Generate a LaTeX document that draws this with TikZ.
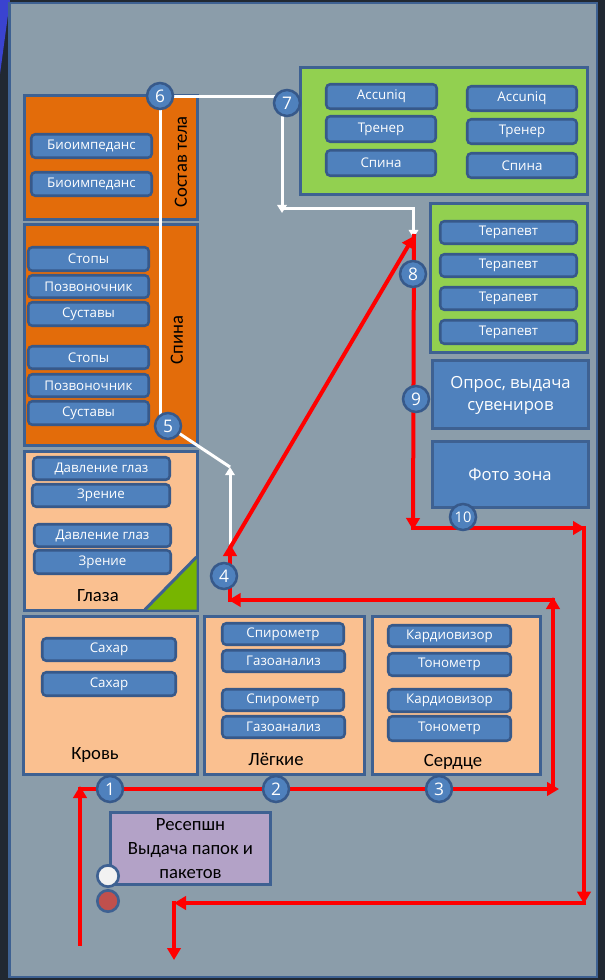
\documentclass[tikz,border=0pt]{standalone}
\usepackage{fontspec}
\setmainfont{Carlito}
\newfontfamily\bfont{Open Sans}
\usetikzlibrary{arrows.meta}
\definecolor{outerbg}{HTML}{212832}
\definecolor{tri}{HTML}{3A43D0}
\definecolor{panel}{HTML}{8B9DAA}
\definecolor{edge}{HTML}{3E6192}
\definecolor{btnfill}{HTML}{4F81BD}
\definecolor{btnedge}{HTML}{37598A}
\definecolor{orng}{HTML}{E36C0A}
\definecolor{peach}{HTML}{FAC090}
\definecolor{lgreen}{HTML}{92D050}
\definecolor{dgreen}{HTML}{77B500}
\definecolor{lav}{HTML}{B3A2C7}
\definecolor{redc}{HTML}{C0504D}
\definecolor{offwhite}{HTML}{F2F2F2}
% zone box: name, x1, y1, x2, y2 (outer extents, px), fill
\newcommand{\zonebox}[6]{\node[zone, fill=#6, minimum width={(#4-#2-3)*0.75pt}, minimum height={(#5-#3-3)*0.75pt}] (#1) at ({(#2+#4)/2},{(#3+#5)/2}) {};}
% button: name, x1, y1, x2, y2 (outer extents, px), text
\newcommand{\btnode}[6]{\node[btn, minimum width={(#4-#2-2.5)*0.75pt}, minimum height={(#5-#3-2.5)*0.75pt}] (#1) at ({(#2+#4)/2},{(#3+#5)/2}) {#6};}
\begin{document}
\begin{tikzpicture}[x=0.75pt,y=-0.75pt,
  zone/.style={rectangle, draw=edge, line width=2.25pt, inner sep=0pt},
  btn/.style={rectangle, draw=btnedge, fill=btnfill, line width=1.9pt, rounded corners=3pt, inner sep=0pt, text=white, font=\bfont\fontsize{10}{12}\selectfont},
  lbl/.style={text=black, font=\fontsize{14}{18}\selectfont, inner sep=0pt},
  bigw/.style={text=white, font=\bfont\fontsize{12.5}{16.5}\selectfont, inner sep=0pt, align=center},
  num/.style={circle, draw=btnedge, fill=btnfill, line width=1.9pt, minimum size=19.5pt, inner sep=0pt, text=white, font=\bfont\fontsize{13}{13}\selectfont},
  redarr/.style={draw=red, line width=3pt, -{Triangle[length=9pt,width=10pt]}},
  wharr/.style={draw=white, line width=2.25pt, -{Triangle[length=6pt,width=7pt]}},
  whln/.style={draw=white, line width=2.25pt},
]
\useasboundingbox (0,0) rectangle (605,980);
\fill[outerbg] (0,0) rectangle (605,980);
\fill[tri] (0,0) -- (10,0) -- (0,74) -- cycle;
\draw[fill=panel, draw=edge, line width=2pt] (9.5,3) rectangle (597,977);

% zones
\zonebox{sostav}{23}{94}{199}{221}{orng}
\zonebox{spina}{23}{223}{199}{447}{orng}
\zonebox{glaza}{23}{450}{199}{612}{peach}
\fill[dgreen] (145,609.5) -- (196.5,609.5) -- (196.5,557) -- cycle;
\draw[edge, line width=2.25pt] (145,609.5) -- (196.5,557);
\zonebox{krov}{22}{615}{199}{776}{peach}
\zonebox{legk}{203}{615}{366}{776}{peach}
\zonebox{serd}{371}{615}{542}{776}{peach}
\zonebox{grA}{299}{66}{589}{196}{lgreen}
\zonebox{grB}{429}{202}{589}{354}{lgreen}
\zonebox{opros}{431}{359}{590}{430}{btnfill}
\zonebox{foto}{431}{440}{590}{509}{btnfill}
\zonebox{recep}{109}{811}{272}{886}{lav}

% zone labels
\node[lbl, rotate=90] (lsostav) at (181,162) {Состав тела};
\node[lbl, rotate=90] (lspina) at (177,340) {Спина};
\node[lbl] (lglaza) at (98,596) {Глаза};
\node[lbl] (lkrov) at (95,755) {Кровь};
\node[lbl] (llegk) at (276,759) {Лёгкие};
\node[lbl] (lserd) at (453,762) {Сердце};
\node[lbl, align=center] (lrecep) at (190.5,849) {Ресепшн\\Выдача папок и\\пакетов};
\node[bigw] (lopros) at (510.5,395) {Опрос, выдача\\сувениров};
\node[bigw] (lfoto) at (510,475) {Фото зона};

% buttons
\btnode{b1}{30}{133}{153}{159}{Биоимпеданс}
\btnode{b2}{30}{171}{153}{197}{Биоимпеданс}
\btnode{b3}{27}{246}{150}{272}{Стопы}
\btnode{b4}{27}{274}{150}{299}{Позвоночник}
\btnode{b5}{27}{301}{150}{327}{Суставы}
\btnode{b6}{27}{345}{150}{370}{Стопы}
\btnode{b7}{27}{373}{150}{398}{Позвоночник}
\btnode{b8}{27}{400}{150}{426}{Суставы}
\btnode{b9}{32}{456}{171}{481}{Давление глаз}
\btnode{b10}{31}{483}{171}{508}{Зрение}
\btnode{b11}{33}{523}{172}{548}{Давление глаз}
\btnode{b12}{33}{549}{172}{575}{Зрение}
\btnode{b13}{41}{637}{177}{662}{Сахар}
\btnode{b14}{41}{671}{177}{697}{Сахар}
\btnode{b15}{221}{622}{345}{646}{Спирометр}
\btnode{b16}{221}{649}{346}{673}{Газоанализ}
\btnode{b17}{221}{688}{345}{712}{Спирометр}
\btnode{b18}{221}{715}{346}{739}{Газоанализ}
\btnode{b19}{387}{624}{512}{648}{Кардиовизор}
\btnode{b20}{387}{652}{512}{677}{Тонометр}
\btnode{b21}{387}{688}{512}{713}{Кардиовизор}
\btnode{b22}{387}{715}{512}{742}{Тонометр}
\btnode{b23}{325}{83}{438}{110}{Accuniq}
\btnode{b24}{325}{115}{437}{143}{Тренер}
\btnode{b25}{325}{149}{437}{177}{Спина}
\btnode{b26}{466}{85}{578}{112}{Accuniq}
\btnode{b27}{466}{118}{578}{145}{Тренер}
\btnode{b28}{466}{152}{578}{179}{Спина}
\btnode{b29}{439}{220}{578}{245}{Терапевт}
\btnode{b30}{439}{253}{578}{278}{Терапевт}
\btnode{b31}{439}{286}{578}{311}{Терапевт}
\btnode{b32}{439}{319}{578}{345}{Терапевт}

% circle positions
\coordinate (p1) at (110,789);
\coordinate (p2) at (276,789);
\coordinate (p3) at (439,789);
\coordinate (p4) at (224,576);
\coordinate (p5) at (168,426);
\coordinate (p6) at (160,96);
\coordinate (p7) at (287,103);
\coordinate (p8) at (413,274);
\coordinate (p9) at (416,399);
\coordinate (p10) at (463,517);

% white route
\coordinate (w5top) at (160,416);
\coordinate (w67) at (287,97);
\coordinate (w7a) at (282,112);
\coordinate (w7b) at (282,213);
\coordinate (wc1) at (281,208.5);
\coordinate (wc2) at (413.5,208.5);
\coordinate (wc3) at (413.5,238);
\coordinate (w4bot) at (230,546);
\coordinate (w4top) at (230,467);
\draw[whln] (p6) -- (w5top);
\draw[whln] ([yshift=-0.75pt]p6) -- (w67);
\draw[wharr] (w7a) -- (w7b);
\draw[wharr, line join=miter] (wc1) -- (wc2) -- (wc3);
\draw[whln] (p5) -- (w4top);
\draw[wharr] (w4bot) -- (w4top);

% red route
\coordinate (s0) at (80,946);
\coordinate (s1) at (80,789);
\coordinate (s2) at (553,789);
\coordinate (s3) at (553,600);
\coordinate (s4) at (230,600);
\coordinate (s5) at (230,546);
\coordinate (s6) at (414,236);
\coordinate (s7) at (413,528);
\coordinate (s8) at (585,528);
\coordinate (s9) at (584,903);
\coordinate (s10) at (174,903);
\coordinate (s11) at (174,960);
\draw[redarr] (s0) -- ([yshift=2.25pt]s1);
\draw[redarr] ([xshift=-1.5pt]s1) -- ([xshift=4.5pt]s2);
\draw[redarr] ([yshift=-1.5pt]s2) -- ([yshift=2.25pt]s3);
\draw[redarr] ([xshift=1.5pt]s3) -- ([xshift=-1pt]s4);
\draw[redarr] ([yshift=-1.5pt]s4) -- ([yshift=1.5pt]s5);
\draw[redarr] ([yshift=-1.5pt]s5) -- (s6);
\draw[redarr] ([yshift=1.5pt]s6) -- ([yshift=-1.5pt]s7);
\draw[redarr] ([xshift=-1.5pt]s7) -- (s8);
\draw[redarr] ([yshift=1.5pt,xshift=-0.75pt]s8) -- ([yshift=-0.5pt]s9);
\draw[redarr] ([xshift=1.5pt]s9) -- (s10);
\draw[redarr] ([yshift=1.5pt]s10) -- (s11);

% numbered stations
\node[num] (n1) at (p1) {1};
\node[num] (n2) at (p2) {2};
\node[num] (n3) at (p3) {3};
\node[num] (n4) at (p4) {4};
\node[num] (n5) at (p5) {5};
\node[num] (n6) at (p6) {6};
\node[num] (n7) at (p7) {7};
\node[num] (n8) at (p8) {8};
\node[num] (n9) at (p9) {9};
\node[num, font=\bfont\fontsize{11}{11}\selectfont] (n10) at (p10) {10};

% reception lights
\node[circle, draw=edge, fill=offwhite, line width=2pt, minimum size=16pt, inner sep=0pt] (lightw) at (108,876) {};
\node[circle, draw=edge, fill=redc, line width=2pt, minimum size=16pt, inner sep=0pt] (lightr) at (108,901) {};
\end{tikzpicture}
\end{document}
